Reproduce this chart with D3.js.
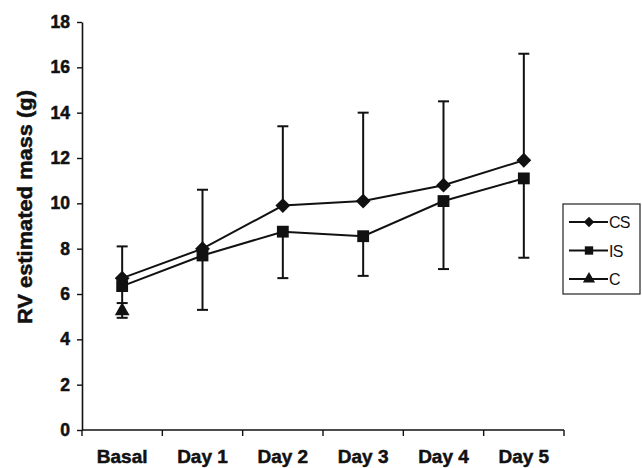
<!DOCTYPE html>
<html>
<head>
<meta charset="utf-8">
<script src="https://cdn.jsdelivr.net/npm/d3@7"></script>
<style>
  body { margin: 0; background: #fff; }
  svg { display: block; }
</style>
</head>
<body>
<div id="chart"></div>
<script>
// data
var categories = ["Basal", "Day 1", "Day 2", "Day 3", "Day 4", "Day 5"];
var csMean  = [6.7, 8.0, 9.9, 10.1, 10.8, 11.9];
var csUpper = [8.1, 10.6, 13.4, 14.0, 14.5, 16.6];
var isMean  = [6.35, 7.7, 8.75, 8.55, 10.1, 11.1];
var isLower = [5.6, 5.3, 6.7, 6.8, 7.1, 7.6];
var cCats   = ["Basal"];
var cMean   = [5.3];
var cLower  = [4.95];
var yTicks  = [0, 2, 4, 6, 8, 10, 12, 14, 16, 18];
var legendNames = ["CS", "IS", "C"];

var width = 642, height = 468;
var fontFam = "'Liberation Sans', Arial, sans-serif";
var svg = d3.select("#chart").append("svg")
	.attr("width", width)
	.attr("height", height);

var x = d3.scaleBand().domain(categories).range([82, 564]).padding(0);
var y = d3.scaleLinear().domain([0, 18]).range([430, 22]);
var cx = function(c) { return x(c) + x.bandwidth() / 2; };

// heavy bold text, a bit like the scanned figure
function boldText(sel, size) {
	sel.attr("fill", "#111")
		.attr("stroke", "#111")
		.attr("stroke-width", 0.5)
		.style("font-family", fontFam)
		.style("font-weight", "bold")
		.style("font-size", size + "px");
}

// axes
var yAxis = svg.append("g")
	.attr("transform", "translate(82,0)")
	.call(d3.axisLeft(y).tickValues(yTicks).tickSize(5).tickPadding(7).tickSizeOuter(0));
yAxis.select(".domain").attr("stroke", "#111").attr("stroke-width", 1.6);
yAxis.selectAll(".tick line").attr("stroke", "#111").attr("stroke-width", 1.4);
yAxis.selectAll("text").call(boldText, 17.5);

var xAxis = svg.append("g").attr("transform", "translate(0,430)");
xAxis.append("line")
	.attr("x1", 82).attr("x2", 564)
	.attr("stroke", "#111").attr("stroke-width", 1.6);
// tick marks sit on the category boundaries
xAxis.selectAll(".xt")
	.data(categories.concat(["end"]))
	.enter().append("line")
	.attr("x1", function(d, i) { return i < categories.length ? x(d) : x.range()[1]; })
	.attr("x2", function(d, i) { return i < categories.length ? x(d) : x.range()[1]; })
	.attr("y1", 0).attr("y2", 6)
	.attr("stroke", "#111").attr("stroke-width", 1.4);
xAxis.selectAll(".xl")
	.data(categories)
	.enter().append("text")
	.attr("x", function(d) { return cx(d); })
	.attr("y", 33)
	.attr("text-anchor", "middle")
	.call(boldText, 19)
	.text(function(d) { return d; });

svg.append("text")
	.attr("transform", "translate(32,207) rotate(-90)")
	.attr("text-anchor", "middle")
	.attr("textLength", 234)
	.attr("lengthAdjust", "spacingAndGlyphs")
	.call(boldText, 19.5)
	.text("RV estimated mass (g)");

// error bars
function errorBars(cats, from, to) {
	var g = svg.append("g").attr("stroke", "#111").attr("stroke-width", 2);
	cats.forEach(function(c, i) {
		g.append("line")
			.attr("x1", cx(c)).attr("x2", cx(c))
			.attr("y1", y(from[i])).attr("y2", y(to[i]));
		g.append("line")
			.attr("x1", cx(c) - 5.5).attr("x2", cx(c) + 5.5)
			.attr("y1", y(to[i])).attr("y2", y(to[i]));
	});
}
errorBars(categories, csMean, csUpper);
errorBars(categories, isMean, isLower);
errorBars(cCats, cMean, cLower);

// lines
var line = d3.line()
	.x(function(d) { return cx(d.c); })
	.y(function(d) { return y(d.v); });
function toPts(cats, vals) {
	return cats.map(function(c, i) { return {c: c, v: vals[i]}; });
}
[csMean, isMean].forEach(function(vals) {
	svg.append("path")
		.datum(toPts(categories, vals))
		.attr("d", line)
		.attr("fill", "none")
		.attr("stroke", "#111")
		.attr("stroke-width", 2);
});

// markers
var symDiamond = d3.symbol().type(d3.symbolSquare).size(110);
var symSquare = d3.symbol().type(d3.symbolSquare).size(140);
var symTri = d3.symbol().type(d3.symbolTriangle).size(95);

svg.selectAll(".cs").data(toPts(categories, csMean)).enter().append("path")
	.attr("d", symDiamond)
	.attr("transform", function(d) { return "translate(" + cx(d.c) + "," + y(d.v) + ") rotate(45)"; })
	.attr("fill", "#111");
svg.selectAll(".is").data(toPts(categories, isMean)).enter().append("path")
	.attr("d", symSquare)
	.attr("transform", function(d) { return "translate(" + cx(d.c) + "," + y(d.v) + ")"; })
	.attr("fill", "#111");
svg.selectAll(".c").data(toPts(cCats, cMean)).enter().append("path")
	.attr("d", symTri)
	.attr("transform", function(d) { return "translate(" + cx(d.c) + "," + (y(d.v) + 1) + ")"; })
	.attr("fill", "#111");

// legend
var legend = svg.append("g");
legend.append("rect")
	.attr("x", 563).attr("y", 204)
	.attr("width", 77).attr("height", 90)
	.attr("fill", "#fff")
	.attr("stroke", "#222").attr("stroke-width", 1.2);
var legSyms = [
	{sym: d3.symbol().type(d3.symbolSquare).size(55), rot: 45},
	{sym: d3.symbol().type(d3.symbolSquare).size(70), rot: 0},
	{sym: d3.symbol().type(d3.symbolTriangle).size(65), rot: 0}
];
legendNames.forEach(function(name, i) {
	var ly = 222 + i * 28.5;
	legend.append("line")
		.attr("x1", 569).attr("x2", 608)
		.attr("y1", ly).attr("y2", ly)
		.attr("stroke", "#111").attr("stroke-width", 2);
	legend.append("path")
		.attr("d", legSyms[i].sym)
		.attr("transform", "translate(589," + ly + ") rotate(" + legSyms[i].rot + ")")
		.attr("fill", "#111");
	legend.append("text")
		.attr("x", 609).attr("y", ly + 6)
		.attr("fill", "#111")
		.style("font-family", fontFam)
		.style("font-size", "16px")
		.style("letter-spacing", "-0.8px")
		.text(name);
});
</script>
</body>
</html>
